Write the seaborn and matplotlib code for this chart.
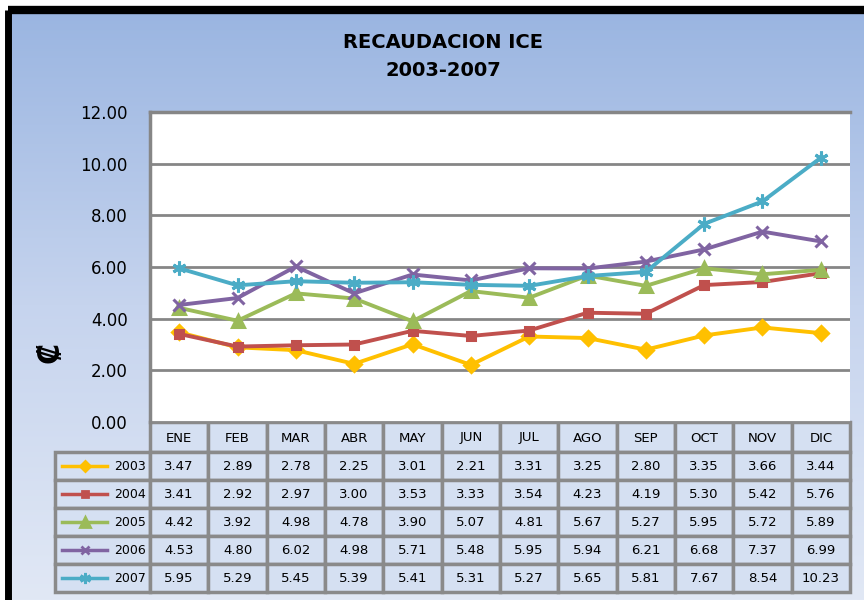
import matplotlib
matplotlib.use("Agg")
import matplotlib.pyplot as plt
import seaborn as sns
import numpy as np
from matplotlib.patches import Rectangle
from matplotlib.colors import LinearSegmentedColormap
from matplotlib.lines import Line2D

months = ["ENE", "FEB", "MAR", "ABR", "MAY", "JUN", "JUL", "AGO", "SEP", "OCT", "NOV", "DIC"]
years = ["2003", "2004", "2005", "2006", "2007"]
v2003 = [3.47, 2.89, 2.78, 2.25, 3.01, 2.21, 3.31, 3.25, 2.80, 3.35, 3.66, 3.44]
v2004 = [3.41, 2.92, 2.97, 3.00, 3.53, 3.33, 3.54, 4.23, 4.19, 5.30, 5.42, 5.76]
v2005 = [4.42, 3.92, 4.98, 4.78, 3.90, 5.07, 4.81, 5.67, 5.27, 5.95, 5.72, 5.89]
v2006 = [4.53, 4.80, 6.02, 4.98, 5.71, 5.48, 5.95, 5.94, 6.21, 6.68, 7.37, 6.99]
v2007 = [5.95, 5.29, 5.45, 5.39, 5.41, 5.31, 5.27, 5.65, 5.81, 7.67, 8.54, 10.23]
series = [v2003, v2004, v2005, v2006, v2007]

colors = ["#FFC000", "#C0504D", "#9BBB59", "#8064A2", "#4BACC6"]
markers = ["D", "s", "^", "x", (6, 2, 0)]
msizes = [7, 6, 9, 8, 10]

plt.rcParams['font.family'] = ['DejaVu Sans']

W, H = 864, 600
fig = plt.figure(figsize=(W / 100, H / 100), dpi=100)
fig.patch.set_facecolor("white")

# background layer in pixel coordinates
bg = fig.add_axes([0, 0, 1, 1], zorder=0)
bg.set_xlim(0, W)
bg.set_ylim(H, 0)
bg.axis("off")
cmap = LinearSegmentedColormap.from_list("bgc", ["#9AB5E1", "#C6D4EE", "#E1E8F5"])
grad = np.linspace(0, 1, 256).reshape(-1, 1)
bg.imshow(grad, cmap=cmap, extent=[8, W, H, 10], aspect="auto", zorder=0)
bg.plot([8, 8], [10, H], color="black", lw=5, solid_capstyle="butt", zorder=2)
bg.plot([8, W], [10, 10], color="black", lw=6, solid_capstyle="butt", zorder=2)

bg.text(443, 42, "RECAUDACION ICE", ha="center", va="center",
        fontsize=14, fontweight="bold")
bg.text(443, 70, "2003-2007", ha="center", va="center",
        fontsize=14, fontweight="bold")
bg.text(50, 352, "\u20a1", ha="center", va="center", rotation=90,
        fontsize=22, fontweight="bold")

# data table under the chart
left, right, top_ax, bot_ax = 150, 850, 112, 422
cw = (right - left) / len(months)
hh, rh = 30, 28
cell_fc = "#D5E0F2"
edge = "#8A8A8A"
for i, m in enumerate(months):
    x0 = left + i * cw
    bg.add_patch(Rectangle((x0, bot_ax), cw, hh, fc=cell_fc, ec=edge, lw=2.5, zorder=1))
    bg.text(x0 + cw / 2, bot_ax + hh / 2 + 1, m, ha="center", va="center", fontsize=9.5)
for r, (yr, vals) in enumerate(zip(years, series)):
    y0 = bot_ax + hh + r * rh
    bg.add_patch(Rectangle((55, y0), left - 55, rh, fc=cell_fc, ec=edge, lw=2.5, zorder=1))
    bg.add_line(Line2D([62, 107], [y0 + rh / 2] * 2, color=colors[r], lw=2.5, zorder=3))
    bg.add_line(Line2D([85], [y0 + rh / 2], color=colors[r], marker=markers[r],
                       ms=msizes[r] * 0.8, mec=colors[r], mew=2, zorder=3))
    bg.text(146, y0 + rh / 2 + 1, yr, ha="right", va="center", fontsize=9)
    for i, v in enumerate(vals):
        x0 = left + i * cw
        bg.add_patch(Rectangle((x0, y0), cw, rh, fc=cell_fc, ec=edge, lw=2.5, zorder=1))
        bg.text(x0 + cw / 2, y0 + rh / 2 + 1, f"{v:.2f}", ha="center", va="center",
                fontsize=9.5)

# chart area
ax = fig.add_axes([left / W, 1 - bot_ax / H, (right - left) / W, (bot_ax - top_ax) / H],
                  zorder=1)
ax.set_facecolor("white")
xpos = np.arange(len(months))
for vals, c, mk, ms in zip(series, colors, markers, msizes):
    sns.lineplot(x=xpos, y=vals, ax=ax, color=c, lw=2.8, marker=mk, ms=ms,
                 mec=c, mew=2.2, mfc=c, zorder=3)

ax.set_xlim(-0.5, len(months) - 0.5)
ax.set_ylim(0, 12)
ax.set_yticks(np.arange(0, 13, 2))
ax.set_yticklabels([f"{t:.2f}" for t in np.arange(0, 13, 2)], fontsize=12)
ax.set_xticks([])
ax.tick_params(axis="y", length=0, pad=16)
ax.grid(axis="y", color="#868686", lw=2)
ax.set_axisbelow(True)
for s in ["left", "top"]:
    ax.spines[s].set_color("#868686")
    ax.spines[s].set_linewidth(2.5)
ax.spines["right"].set_visible(False)
ax.spines["bottom"].set_visible(False)
ax.set_xlabel("")
ax.set_ylabel("")

fig.savefig("out.png", dpi=100)
